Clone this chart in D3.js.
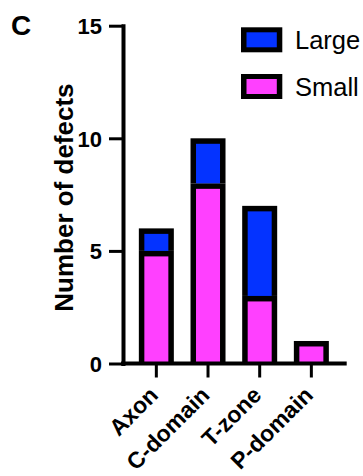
<!DOCTYPE html>
<html>
<head>
<meta charset="utf-8">
<script src="https://cdn.jsdelivr.net/npm/d3@7"></script>
<style>
  body { margin: 0; background: #fff; }
  svg text { font-family: "Liberation Sans", Arial, Helvetica, sans-serif; fill: #000; }
</style>
</head>
<body>
<svg id="chart" width="363" height="476"></svg>
<script>
// Defect counts per region, split by size
const categories = ["Axon", "C-domain", "T-zone", "P-domain"];
const smallDefects = [5, 8, 3, 1];
const largeDefects = [1, 2, 4, 0];
const yTickValues = [0, 5, 10, 15];
const seriesKeys = ["Small", "Large"];
const seriesColors = ["#FF40FF", "#0433FF"];
const legendOrder = ["Large", "Small"];

const rows = categories.map((c, i) => ({ category: c, Small: smallDefects[i], Large: largeDefects[i] }));
const stacked = d3.stack().keys(seriesKeys)(rows);
const color = d3.scaleOrdinal().domain(seriesKeys).range(seriesColors);

const svg = d3.select("#chart");

const y = d3.scaleLinear().domain([0, 15]).range([363.5, 25.7]);
const x = d3.scaleBand().domain(categories).range([121, 346.7])
  .paddingInner(0).paddingOuter(0.184);

const axisX = 123;
const barHalf = 17.5;
const border = 5.5;

// Stacked bars: black frame with the fill inset on top, left and right
const segs = svg.append("g").selectAll("g.series")
  .data(stacked).join("g").attr("class", "series");

segs.each(function (layer) {
  const g = d3.select(this);
  const parts = layer.filter(d => d[1] > d[0]);
  parts.forEach(d => {
    const cx = x(d.data.category) + x.bandwidth() / 2;
    const top = y(d[1]);
    const bottom = y(d[0]);
    g.append("rect")
      .attr("x", cx - barHalf).attr("width", barHalf * 2)
      .attr("y", top).attr("height", bottom - top)
      .attr("fill", "#000");
    g.append("rect")
      .attr("x", cx - barHalf + border).attr("width", barHalf * 2 - border * 2)
      .attr("y", top + border).attr("height", Math.max(0, bottom - top - border))
      .attr("fill", color(layer.key));
  });
});

// Y axis
const yAxis = svg.append("g")
  .attr("transform", `translate(${axisX},0)`)
  .call(d3.axisLeft(y).tickValues(yTickValues).tickSize(14).tickSizeOuter(0).tickPadding(7));
yAxis.select(".domain").attr("stroke-width", 4).attr("stroke-linecap", "square");
yAxis.selectAll(".tick line").attr("stroke-width", 3);
yAxis.selectAll(".tick text")
  .style("font-size", "22px").style("font-weight", "bold").attr("dy", "0.36em");

// X axis
const xAxis = svg.append("g")
  .attr("transform", `translate(0,${y(0)})`)
  .call(d3.axisBottom(x).tickSize(14).tickSizeOuter(0));
xAxis.select(".domain").attr("stroke-width", 4).attr("d", `M${axisX - 2},0H346.7`);
xAxis.selectAll(".tick line").attr("stroke-width", 3);
xAxis.selectAll(".tick text")
  .style("font-size", "23px").style("font-weight", "bold")
  .attr("text-anchor", "end")
  .attr("y", 0).attr("dy", 0)
  .attr("transform", "translate(3,33) rotate(-45)");

// Y axis title
svg.append("text")
  .attr("transform", `translate(72.5,${(y(0) + y(15)) / 2 + 3}) rotate(-90)`)
  .attr("text-anchor", "middle")
  .style("font-size", "26px").style("font-weight", "bold")
  .text("Number of defects");

// Panel letter
svg.append("text")
  .attr("x", 11).attr("y", 34.5)
  .style("font-size", "28px").style("font-weight", "bold")
  .text("C");

// Legend
const legend = svg.append("g");
legendOrder.forEach((key, i) => {
  const ly = 27.3 + i * 46.7;
  legend.append("rect").attr("x", 241).attr("y", ly).attr("width", 41.3).attr("height", 25).attr("fill", "#000");
  legend.append("rect").attr("x", 246.5).attr("y", ly + 5).attr("width", 30.3).attr("height", 15).attr("fill", color(key));
  legend.append("text").attr("x", 295).attr("y", ly + 21.5)
    .style("font-size", "25.5px").text(key);
});
</script>
</body>
</html>
